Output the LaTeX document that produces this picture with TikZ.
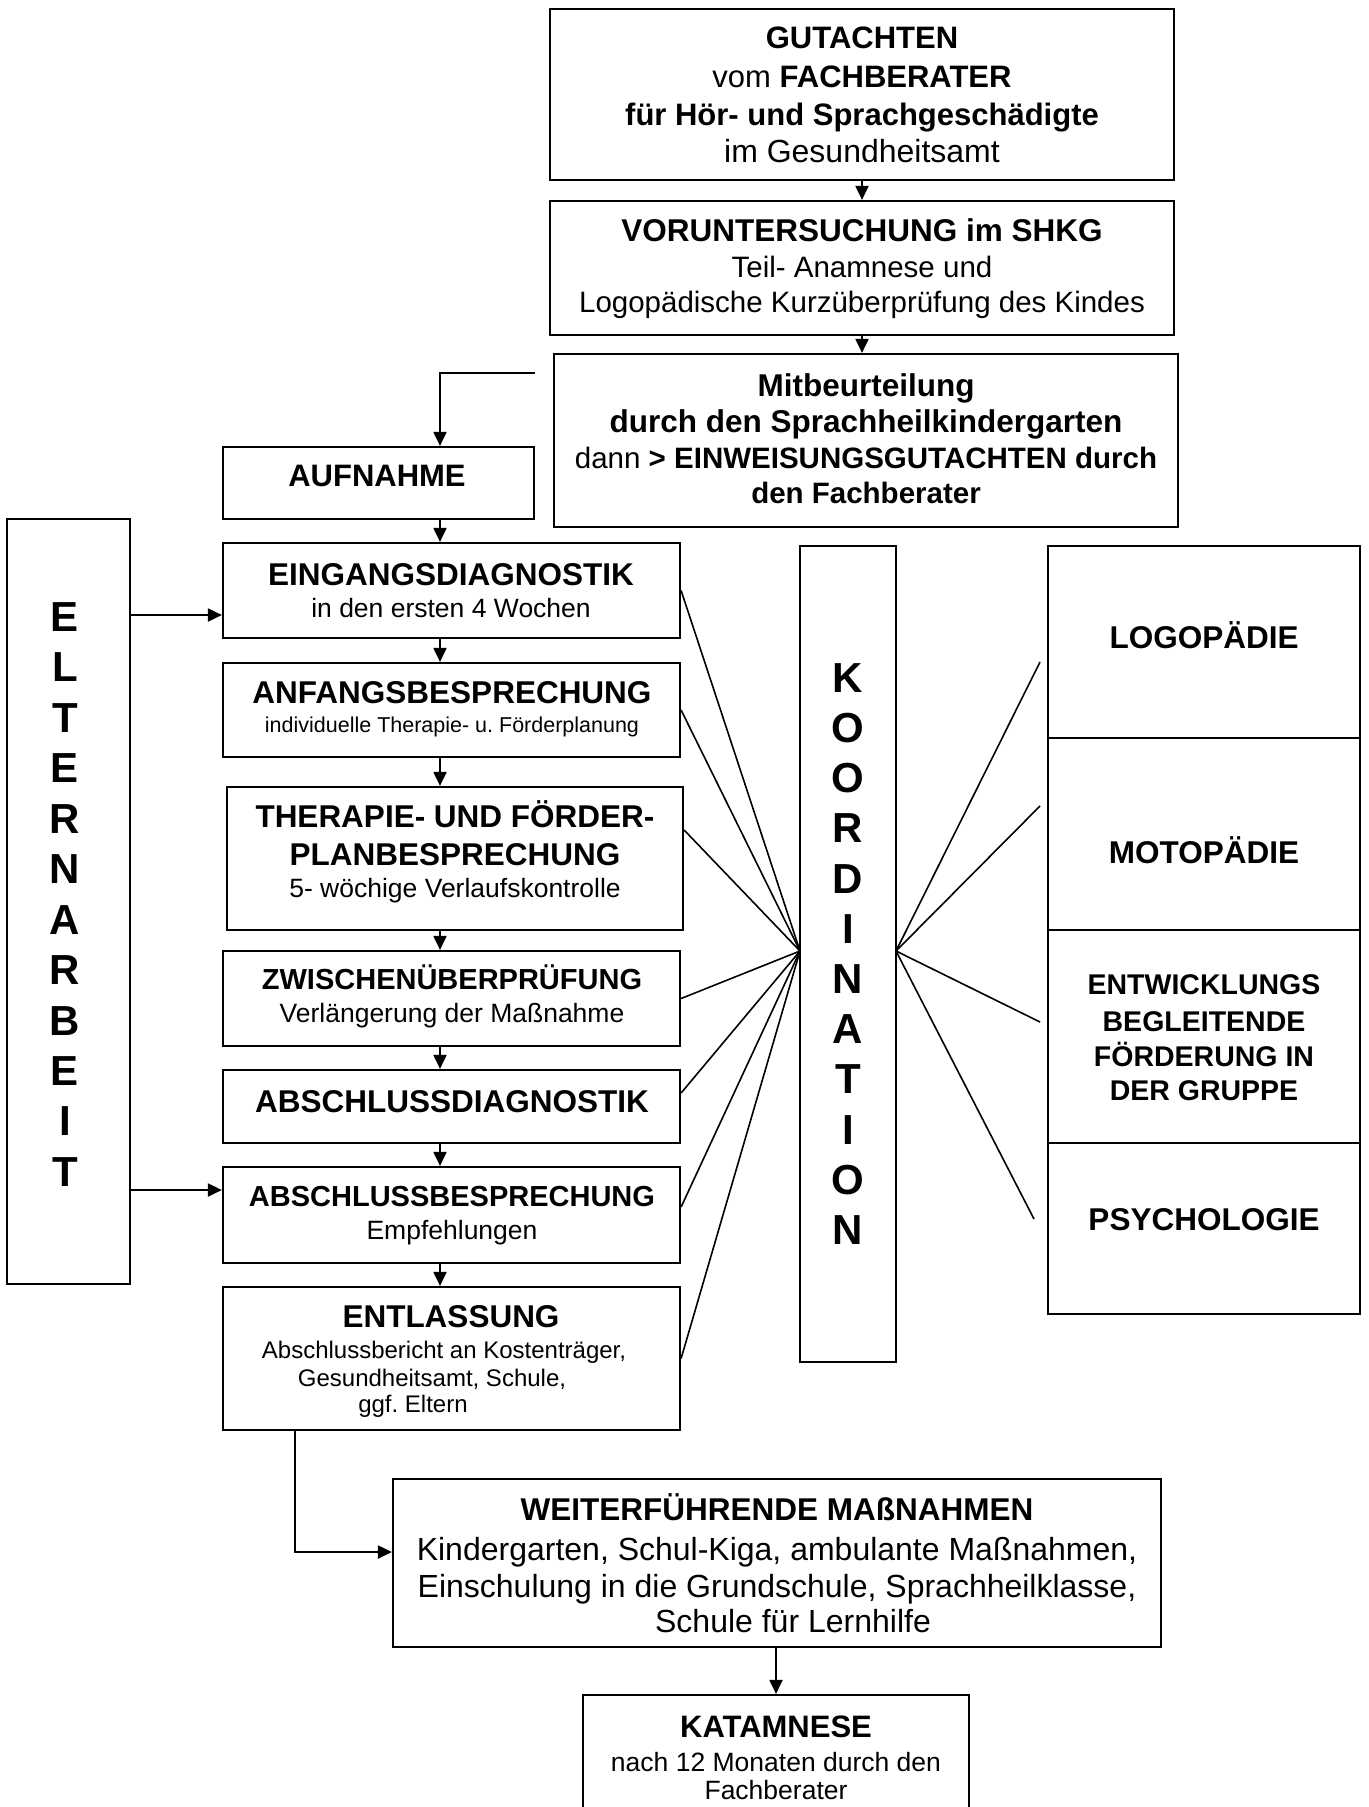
\documentclass[tikz,border=0pt]{standalone}
\usepackage{fontspec}
\setmainfont{Liberation Sans}
\usetikzlibrary{arrows.meta}
\frenchspacing
\newcommand\mkbox[5]{\node[bx, minimum width={(#4)-(#2)}, minimum height={(#5)-(#3)}] (#1) at ({((#2)+(#4))/2},{((#3)+(#5))/2}) {};}
\newcommand\tx[6]{\node[txt, font={\fontsize{#4}{#4}\selectfont #5}] (#1) at (#2,{#3+0.34*#4}) {#6};}
\begin{document}
\begin{tikzpicture}[x=1pt,y=-1pt,
  bx/.style={draw, line width=2.2pt, inner sep=0pt},
  arr/.style={line width=2pt, -{Triangle[length=14pt,width=13pt]}},
  fan/.style={line width=1.6pt},
  txt/.style={inner sep=0pt, anchor=base},
  letters/.style={inner sep=0pt, align=center}]
\fill[white] (0,0) rectangle (1368,1807);
\useasboundingbox (0,0) rectangle (1368,1807);

% ---------- boxes ----------
\mkbox{gut}{550}{9}{1174}{180}
\mkbox{vor}{550}{201}{1174}{335}
\mkbox{mit}{554}{354}{1178}{527}
\mkbox{aufn}{223}{447}{534}{519}
\mkbox{elt}{7}{519}{130}{1284}
\mkbox{eing}{223}{543}{680}{638}
\mkbox{anf}{223}{663}{680}{757}
\mkbox{ther}{227}{787}{683}{930}
\mkbox{zw}{223}{951}{680}{1046}
\mkbox{ad}{223}{1070}{680}{1143}
\mkbox{ab}{223}{1167}{680}{1263}
\mkbox{ent}{223}{1287}{680}{1430}
\mkbox{koord}{800}{546}{896}{1362}
\mkbox{logo}{1048}{546}{1360}{738}
\mkbox{moto}{1048}{738}{1360}{930}
\mkbox{entw}{1048}{930}{1360}{1143}
\mkbox{psy}{1048}{1143}{1360}{1314}
\mkbox{weit}{393}{1479}{1161}{1647}
\mkbox{kat}{583}{1695}{969}{1840}

% ---------- texts ----------
\tx{g1}{862}{38}{31}{\bfseries}{GUTACHTEN}
\tx{g2}{862}{76.5}{31}{}{vom \textbf{FACHBERATER}}
\tx{g3}{862}{114.5}{31}{\bfseries}{für Hör- und Sprachgeschädigte}
\tx{g4}{862}{151.5}{32}{}{im Gesundheitsamt}

\tx{v1}{862}{231}{31.5}{\bfseries}{VORUNTERSUCHUNG im SHKG}
\tx{v2}{862}{267.5}{29.5}{}{Teil- Anamnese und}
\tx{v3}{862}{302}{29.5}{}{Logopädische Kurzüberprüfung des Kindes}

\tx{m1}{866}{386}{31.5}{\bfseries}{Mitbeurteilung}
\tx{m2}{866}{422}{31.5}{\bfseries}{durch den Sprachheilkindergarten}
\tx{m3}{866}{458.5}{29.5}{}{dann \textbf{> EINWEISUNGSGUTACHTEN durch}}
\tx{m4}{866}{493}{29.5}{\bfseries}{den Fachberater}

\tx{a1}{377}{476}{31}{\bfseries}{AUFNAHME}

\tx{e1}{451}{575}{31.5}{\bfseries}{EINGANGSDIAGNOSTIK}
\tx{e2}{451}{608}{26.5}{}{in den ersten 4 Wochen}

\tx{f1}{452}{693}{31.5}{\bfseries}{ANFANGSBESPRECHUNG}
\tx{f2}{452}{725}{21.5}{}{individuelle Therapie- u. Förderplanung}

\tx{t1}{455}{817}{31.5}{\bfseries}{THERAPIE- UND FÖRDER-}
\tx{t2}{455}{855}{31.5}{\bfseries}{PLANBESPRECHUNG}
\tx{t3}{455}{888}{26.5}{}{5- wöchige Verlaufskontrolle}

\tx{z1}{452}{980}{29}{\bfseries}{ZWISCHENÜBERPRÜFUNG}
\tx{z2}{452}{1013}{26.5}{}{Verlängerung der Maßnahme}

\tx{d1}{452}{1102}{31.5}{\bfseries}{ABSCHLUSSDIAGNOSTIK}

\tx{b1}{452}{1197}{29}{\bfseries}{ABSCHLUSSBESPRECHUNG}
\tx{b2}{452}{1230}{26.5}{}{Empfehlungen}

\tx{n1}{451}{1317}{31.5}{\bfseries}{ENTLASSUNG}
\tx{n2}{444}{1350}{24}{}{Abschlussbericht an Kostenträger,}
\tx{n3}{432}{1378}{24}{}{Gesundheitsamt, Schule,}
\tx{n4}{413}{1404}{24}{}{ggf. Eltern}

\tx{l1}{1204}{638}{31.5}{\bfseries}{LOGOPÄDIE}
\tx{o1}{1204}{853}{31.5}{\bfseries}{MOTOPÄDIE}
\tx{w1}{1204}{985}{28.5}{\bfseries}{ENTWICKLUNGS}
\tx{w2}{1204}{1022}{28.5}{\bfseries}{BEGLEITENDE}
\tx{w3}{1204}{1057}{28.5}{\bfseries}{FÖRDERUNG IN}
\tx{w4}{1204}{1091}{28.5}{\bfseries}{DER GRUPPE}
\tx{p1}{1204}{1220}{31.5}{\bfseries}{PSYCHOLOGIE}

\tx{r1}{777}{1510}{31.5}{\bfseries}{WEITERFÜHRENDE MAßNAHMEN}
\tx{r2}{777}{1550}{32}{}{Kindergarten, Schul-Kiga, ambulante Maßnahmen,}
\tx{r3}{777}{1587}{32}{}{Einschulung in die Grundschule, Sprachheilklasse,}
\tx{r4}{793}{1622}{32}{}{Schule für Lernhilfe}

\tx{k1}{776}{1727}{31}{\bfseries}{KATAMNESE}
\tx{k2}{776}{1762}{26.5}{}{nach 12 Monaten durch den}
\tx{k3}{776}{1790}{26.5}{}{Fachberater}

\node[letters, font=\fontsize{42}{50.45}\selectfont\bfseries] (eltxt) at (65,894.5)
  {E\\L\\T\\E\\R\\N\\A\\R\\B\\E\\I\\T};
\node[letters, font=\fontsize{42}{50.2}\selectfont\bfseries] (kotxt) at (848,954)
  {K\\O\\O\\R\\D\\I\\N\\A\\T\\I\\O\\N};

% ---------- helper coordinates ----------
\coordinate (ax) at (440,0);
\coordinate (mfree) at (535,373);
\coordinate (ey1) at (0,615);
\coordinate (ey2) at (0,1190);
\coordinate (ew) at (295,1552);
\coordinate (kl) at (800,951);
\coordinate (kr) at (896,951);
\coordinate (q1) at (1040,662);
\coordinate (q2) at (1040,806);
\coordinate (q3) at (1040,1022);
\coordinate (q4) at (1034,1219);

% ---------- connectors ----------
\draw[arr] (gut.south) -- (vor.north);
\draw[arr] (vor.south) -- (vor.south |- mit.north);
\draw[arr] (mfree) -| (aufn.north -| ax);
\draw[arr] (aufn.south -| ax) -- (eing.north -| ax);
\draw[arr] (eing.south -| ax) -- (anf.north -| ax);
\draw[arr] (anf.south -| ax) -- (ther.north -| ax);
\draw[arr] (ther.south -| ax) -- (zw.north -| ax);
\draw[arr] (zw.south -| ax) -- (ad.north -| ax);
\draw[arr] (ad.south -| ax) -- (ab.north -| ax);
\draw[arr] (ab.south -| ax) -- (ent.north -| ax);
\draw[arr] (elt.east |- ey1) -- (eing.west |- ey1);
\draw[arr] (elt.east |- ey2) -- (ab.west |- ey2);
\draw[arr] (ent.south -| ew) |- (weit.west |- ew);
\draw[arr] (weit.south -| kat.north) -- (kat.north);

% fan lines
\draw[fan] (eing.east) -- (kl);
\draw[fan] (anf.east) -- (kl);
\draw[fan] ([yshift=28.5pt]ther.east) -- (kl);
\draw[fan] (zw.east) -- (kl);
\draw[fan] ([yshift=13.5pt]ad.east) -- (kl);
\draw[fan] ([yshift=8pt]ab.east) -- (kl);
\draw[fan] (ent.east) -- (kl);
\draw[fan] (kr) -- (q1);
\draw[fan] (kr) -- (q2);
\draw[fan] (kr) -- (q3);
\draw[fan] (kr) -- (q4);
\end{tikzpicture}
\end{document}
